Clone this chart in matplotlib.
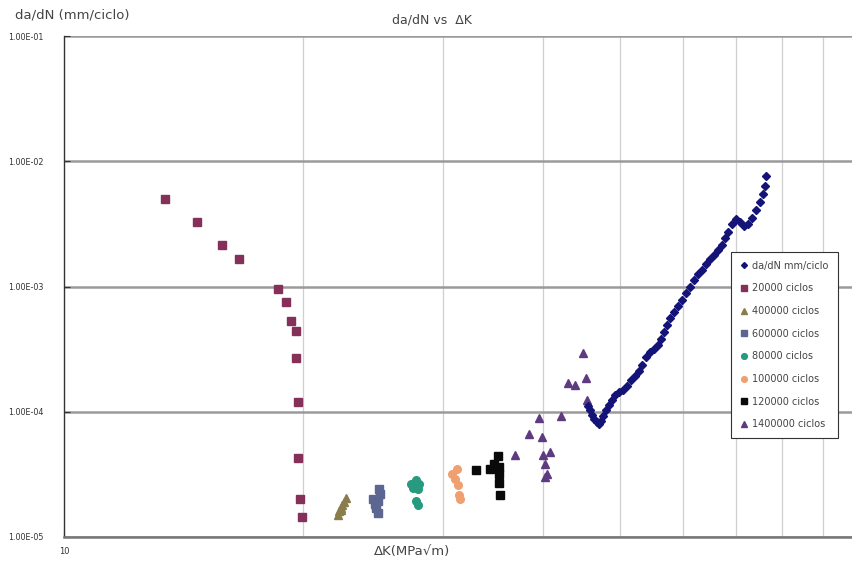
import matplotlib.pyplot as plt
from matplotlib.ticker import FixedLocator, FuncFormatter, NullFormatter

plt.rcParams['font.family'] = ['DejaVu Sans']

# da/dN curve (main series)
dk_main = [45.6, 45.9, 46.2, 46.4, 46.8, 47.1, 47.4, 47.6, 48.1, 48.5, 48.9, 49.3,
           49.9, 50.5, 51.1, 51.7, 52.3, 52.9, 53.3, 54.0, 54.6, 55.2, 55.9, 56.4,
           56.9, 57.3, 57.8, 58.5, 59.2, 59.9, 60.6, 61.3, 62.0, 62.7, 63.5, 64.2,
           65.0, 65.7, 66.5, 67.3, 67.8, 68.4, 69.2, 70.0, 70.9, 71.7, 72.5, 73.4,
           74.2, 75.1, 75.7, 76.2, 76.4]
dadn_main = [1.11e-4, 1.03e-4, 9.4e-5, 8.75e-5, 8.3e-5, 8.0e-5, 8.4e-5, 9.25e-5,
             1.03e-4, 1.13e-4, 1.24e-4, 1.36e-4, 1.44e-4, 1.49e-4, 1.61e-4, 1.79e-4,
             1.93e-4, 2.11e-4, 2.36e-4, 2.74e-4, 3.0e-4, 3.17e-4, 3.41e-4, 3.81e-4,
             4.33e-4, 4.93e-4, 5.61e-4, 6.26e-4, 6.99e-4, 7.8e-4, 8.87e-4, 9.91e-4,
             1.13e-3, 1.26e-3, 1.36e-3, 1.51e-3, 1.66e-3, 1.78e-3, 1.96e-3, 2.14e-3,
             2.44e-3, 2.72e-3, 3.16e-3, 3.46e-3, 3.27e-3, 3.04e-3, 3.16e-3, 3.52e-3,
             4.08e-3, 4.73e-3, 5.48e-3, 6.34e-3, 7.62e-3]

dk_200 = [13.4, 14.7, 15.8, 16.6, 18.6, 19.0, 19.3, 19.6, 19.6, 19.7, 19.7, 19.8, 19.9]
dadn_200 = [5.0e-3, 3.3e-3, 2.15e-3, 1.65e-3, 9.5e-4, 7.5e-4, 5.3e-4, 4.4e-4,
            2.7e-4, 1.2e-4, 4.3e-5, 2.0e-5, 1.45e-5]

dk_400 = [22.1, 22.2, 22.3, 22.4, 22.5, 22.6, 22.3]
dadn_400 = [1.5e-5, 1.6e-5, 1.7e-5, 1.8e-5, 1.9e-5, 2.05e-5, 1.65e-5]

dk_600 = [24.9, 25.0, 24.5, 24.6, 24.7, 24.8, 24.8]
dadn_600 = [2.4e-5, 2.2e-5, 2.0e-5, 1.85e-5, 1.7e-5, 1.55e-5, 1.95e-5]

dk_800 = [27.3, 27.7, 28.0, 27.5, 27.9, 27.7, 27.9]
dadn_800 = [2.65e-5, 2.85e-5, 2.65e-5, 2.45e-5, 2.4e-5, 1.95e-5, 1.8e-5]

dk_1000 = [30.8, 31.2, 31.0, 31.3, 31.4, 31.5]
dadn_1000 = [3.2e-5, 3.5e-5, 2.9e-5, 2.6e-5, 2.15e-5, 2.0e-5]

dk_1200 = [33.0, 34.3, 35.1, 35.2, 35.3, 35.3, 35.4, 34.7]
dadn_1200 = [3.4e-5, 3.5e-5, 4.4e-5, 3.6e-5, 3.2e-5, 2.7e-5, 2.15e-5, 3.8e-5]

dk_1400 = [36.9, 38.4, 39.6, 39.9, 40.9, 40.0, 40.3, 40.5, 40.3, 42.2, 43.0, 43.9,
           45.0, 45.4, 45.5]
dadn_1400 = [4.5e-5, 6.6e-5, 8.9e-5, 6.3e-5, 4.8e-5, 4.5e-5, 3.8e-5, 3.2e-5, 3.0e-5,
             9.2e-5, 1.7e-4, 1.65e-4, 2.95e-4, 1.85e-4, 1.25e-4]

fig = plt.figure(figsize=(8.52, 5.62), dpi=100)
# axes runs a little past the right edge, like the cropped original
ax = fig.add_axes([64 / 852, 25 / 562, 795 / 852, 501 / 562])
ax.set_xscale('log')
ax.set_yscale('log')
ax.set_xlim(10, 100)
ax.set_ylim(1e-5, 1e-1)

# series: data, label, marker, colour, size
ax.plot(dk_main, dadn_main, 'D', color='#141478', ms=4.0, mec='#141478',
        label='da/dN mm/ciclo', zorder=5)
ax.plot(dk_200, dadn_200, 's', color='#843059', ms=5.5, label='20000 ciclos')
ax.plot(dk_400, dadn_400, '^', color='#8a7d4c', ms=5.5, label='400000 ciclos')
ax.plot(dk_600, dadn_600, 's', color='#5d6690', ms=5.5, label='600000 ciclos')
ax.plot(dk_800, dadn_800, 'o', color='#279a80', ms=5.5, label='80000 ciclos')
ax.plot(dk_1000, dadn_1000, 'o', color='#f0a070', ms=5.5, label='100000 ciclos')
ax.plot(dk_1200, dadn_1200, 's', color='#0a0a0a', ms=5.5, label='120000 ciclos')
ax.plot(dk_1400, dadn_1400, '^', color='#5e3a80', ms=5.5, label='1400000 ciclos')

# gridlines: heavy gray per decade, light vertical for minor x
ax.yaxis.set_major_locator(FixedLocator([1e-5, 1e-4, 1e-3, 1e-2, 1e-1]))
ax.yaxis.set_minor_locator(FixedLocator([]))
ax.xaxis.set_major_locator(FixedLocator([10, 100]))
ax.xaxis.set_minor_locator(FixedLocator([20, 30, 40, 50, 60, 70, 80, 90]))
ax.xaxis.set_minor_formatter(NullFormatter())
ax.xaxis.set_major_formatter(FuncFormatter(lambda v, p: '%d' % round(v)))
ax.yaxis.set_major_formatter(FuncFormatter(lambda v, p: '%.2E' % v))
ax.grid(axis='y', which='major', color='#9a9a9a', lw=1.8)
ax.grid(axis='x', which='minor', color='#cfcfcf', lw=0.9)
ax.set_axisbelow(True)

for s in ['top', 'right']:
    ax.spines[s].set_visible(False)
ax.spines['left'].set_color('#333333')
ax.spines['left'].set_linewidth(1.0)
ax.spines['bottom'].set_color('#777777')
ax.spines['bottom'].set_linewidth(1.8)
ax.tick_params(axis='y', which='major', direction='in', length=4, pad=15,
               labelsize=5.8, colors='#333333')
ax.tick_params(axis='x', which='major', direction='in', length=4, pad=7,
               labelsize=6, colors='#333333')
ax.tick_params(axis='x', which='minor', length=0)

fig.text(432 / 852, 1 - 20 / 562, 'da/dN vs  ΔK', ha='center', va='center',
         fontsize=9, color='#444444')
fig.text(15 / 852, 1 - 15 / 562, 'da/dN (mm/ciclo)', ha='left', va='center',
         fontsize=9.5, color='#444444')
fig.text(412 / 852, 1 - 551 / 562, 'ΔK(MPa√m)', ha='center', va='center',
         fontsize=9.5, color='#444444')

leg = ax.legend(loc='upper left', bbox_to_anchor=(731 / 852, 1 - 252 / 562),
                bbox_transform=fig.transFigure, fontsize=7, frameon=True,
                fancybox=False, edgecolor='#333333', framealpha=1,
                borderpad=0.9, labelspacing=1.3, handlelength=0.8,
                handletextpad=0.5, markerscale=0.75, borderaxespad=0)
leg.get_frame().set_linewidth(0.8)
for t in leg.get_texts():
    t.set_color('#444444')

fig.savefig('out.png', dpi=100)
